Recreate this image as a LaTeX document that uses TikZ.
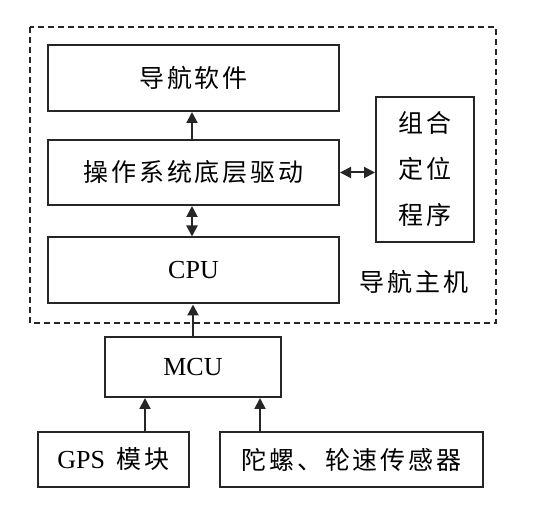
\documentclass[tikz,border=0pt]{standalone}
\usepackage{fontspec}
\setmainfont{Liberation Serif}
\newfontfamily\cjk[LetterSpace=11]{Noto Sans CJK SC}
\usetikzlibrary{arrows.meta,calc}
\tikzset{
  box/.style={draw=black!85, line width=2pt, rectangle, inner sep=0pt, font=\cjk\fontsize{25}{30}\selectfont},
  latin/.style={font=\rmfamily\fontsize{26}{30}\selectfont},
  arr/.style={draw=black!85, line width=2pt, -{Triangle[length=11pt,width=11pt]}},
  darr/.style={draw=black!85, line width=2pt, {Triangle[length=11pt,width=11pt]}-{Triangle[length=11pt,width=11pt]}},
  frame/.style={draw=black!85, line width=1.8pt, dash pattern=on 6pt off 4pt}
}
\begin{document}
\begin{tikzpicture}[x=1pt,y=-1pt]
\useasboundingbox (0,0) rectangle (541,510);
\draw[frame] (30,27) rectangle (496,323);
\node[box, minimum width=291pt, minimum height=66pt] (nav) at (193.5,78) {导航软件};
\node[box, minimum width=291pt, minimum height=65pt] (os) at (193.5,172.5) {操作系统底层驱动};
\node[box, latin, minimum width=291pt, minimum height=66pt] (cpu) at (193.5,270.5) {CPU};
\node[box, minimum width=98pt, minimum height=145pt, align=center, font=\cjk\fontsize{25}{46}\selectfont] (comb) at (425,169.5) {组合\\定位\\程序};
\node[font=\cjk\fontsize{25}{30}\selectfont, inner sep=0pt] (host) at (414,282) {导航主机};
\node[box, latin, minimum width=176pt, minimum height=60pt] (mcu) at (193,367) {MCU};
\node[box, minimum width=151pt, minimum height=55pt] (gps) at (113.5,459.5) {{\rmfamily\fontsize{26}{30}\selectfont GPS}\hspace{12pt}模块};
\node[box, minimum width=263pt, minimum height=55pt] (gyro) at (351.5,459.5) {陀螺、轮速传感器};
\draw[arr] ([xshift=-1.5pt]os.north) -- ([xshift=-1.5pt]nav.south);
\draw[darr] ([xshift=-1.5pt]os.south) -- ([xshift=-1.5pt]cpu.north);
\draw[darr] (os.east) -- (os.east -| comb.west);
\draw[arr] (mcu.north) -- (mcu.north |- cpu.south);
\draw[arr] ([xshift=31.5pt]gps.north) -- ([xshift=31.5pt]gps.north |- mcu.south);
\draw[arr] ([xshift=-91.5pt]gyro.north) -- ([xshift=-91.5pt]gyro.north |- mcu.south);
\end{tikzpicture}
\end{document}
